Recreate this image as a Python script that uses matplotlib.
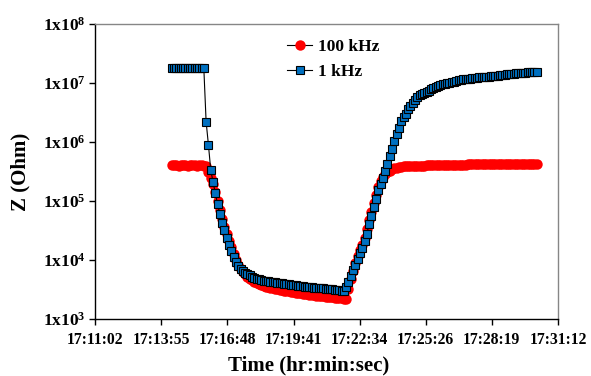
import numpy as np
import matplotlib
matplotlib.use("Agg")
import matplotlib.pyplot as plt
from matplotlib.ticker import FixedLocator, NullLocator, FixedFormatter

plt.rcParams['font.family'] = ['Liberation Serif', 'DejaVu Serif']
plt.rcParams['font.weight'] = 'bold'
plt.rcParams['mathtext.fontset'] = 'custom'
plt.rcParams['mathtext.rm'] = 'Liberation Serif:bold'
plt.rcParams['mathtext.bf'] = 'Liberation Serif:bold'
plt.rcParams['mathtext.it'] = 'Liberation Serif:bold'

# ---------------- data ----------------
x_tick_labels = ["17:11:02", "17:13:55", "17:16:48", "17:19:41",
                 "17:22:34", "17:25:26", "17:28:19", "17:31:12"]
y_exponents = [3, 4, 5, 6, 7, 8]

first_sample_time = "17:14:22.4"   # clock time of first measurement
sample_interval_s = 6.0            # seconds between measurements

z_100kHz = [
    4.02e5, 4.00e5, 4.01e5, 3.99e5, 4.00e5, 4.02e5, 4.00e5, 3.99e5, 4.01e5, 4.00e5,
    4.00e5, 3.99e5, 4.01e5, 4.00e5, 3.98e5,
    3.94e5,
    3.12e5, 2.47e5, 1.95e5, 1.43e5, 1.01e5, 6.96e4, 4.90e4, 3.66e4, 2.73e4, 2.12e4,
    1.64e4, 1.28e4, 1.01e4, 8.32e3, 7.11e3, 6.34e3, 5.74e3, 5.21e3, 4.82e3, 4.53e3,
    4.26e3, 4.03e3,
    3.85e3, 3.73e3, 3.62e3, 3.53e3, 3.45e3, 3.37e3, 3.30e3, 3.24e3, 3.18e3, 3.11e3,
    3.07e3, 3.02e3, 2.97e3, 2.93e3, 2.88e3, 2.84e3, 2.79e3, 2.75e3, 2.71e3, 2.67e3,
    2.64e3, 2.61e3, 2.58e3, 2.55e3, 2.52e3, 2.49e3, 2.47e3, 2.44e3, 2.42e3, 2.39e3,
    2.37e3, 2.34e3, 2.32e3, 2.30e3, 2.28e3, 2.25e3, 2.23e3, 2.21e3,
    2.21e3,
    3.2e3, 4.8e3, 6.6e3, 8.9e3, 1.15e4, 1.45e4, 1.80e4, 2.40e4, 3.40e4, 4.80e4,
    6.6e4, 9.2e4, 1.28e5, 1.72e5, 2.15e5, 2.55e5, 2.85e5, 3.08e5, 3.28e5, 3.44e5,
    3.58e5, 3.68e5, 3.76e5, 3.82e5,
    3.86e5, 3.88e5, 3.90e5, 3.92e5, 3.93e5, 3.95e5, 3.96e5, 3.97e5, 3.98e5, 3.99e5,
    4.00e5, 4.01e5, 4.02e5, 4.03e5, 4.04e5, 4.05e5, 4.06e5, 4.07e5, 4.08e5, 4.09e5,
    4.10e5, 4.11e5, 4.12e5, 4.13e5, 4.14e5, 4.15e5, 4.15e5, 4.15e5, 4.16e5, 4.16e5,
    4.16e5, 4.17e5, 4.17e5, 4.17e5, 4.18e5, 4.18e5, 4.18e5, 4.18e5, 4.19e5, 4.19e5,
    4.19e5, 4.19e5, 4.20e5, 4.20e5, 4.20e5, 4.20e5, 4.20e5, 4.21e5, 4.21e5, 4.21e5,
    4.21e5, 4.21e5, 4.22e5, 4.22e5, 4.22e5, 4.22e5, 4.22e5, 4.22e5, 4.22e5,
]

z_1kHz = [
    1.79e7, 1.78e7, 1.78e7, 1.77e7, 1.78e7, 1.79e7, 1.78e7, 1.78e7, 1.77e7, 1.78e7,
    1.78e7, 1.79e7, 1.78e7, 1.78e7, 1.77e7,
    2.2e6, 9.0e5,
    3.4e5, 2.1e5, 1.35e5, 8.8e4, 6.0e4, 4.3e4, 3.2e4, 2.4e4, 1.8e4, 1.4e4,
    1.12e4, 9.2e3, 7.9e3, 7.05e3, 6.5e3, 6.06e3, 5.79e3, 5.50e3, 5.25e3, 4.99e3,
    4.80e3,
    4.69e3, 4.58e3, 4.49e3, 4.41e3, 4.34e3, 4.27e3, 4.21e3, 4.16e3, 4.10e3, 4.05e3,
    4.00e3, 3.94e3, 3.89e3, 3.85e3, 3.80e3, 3.76e3, 3.72e3, 3.67e3, 3.63e3, 3.57e3,
    3.54e3, 3.50e3, 3.47e3, 3.44e3, 3.40e3, 3.38e3, 3.34e3, 3.32e3, 3.29e3, 3.27e3,
    3.24e3, 3.21e3, 3.19e3, 3.16e3, 3.13e3, 3.09e3, 3.04e3, 2.94e3,
    3.44e3, 4.16e3, 5.27e3, 6.69e3, 8.38e3, 1.04e4, 1.31e4, 1.60e4, 2.06e4, 2.79e4,
    4.05e4, 5.57e4, 7.80e4, 1.09e5, 1.51e5, 1.93e5, 2.47e5, 3.27e5, 4.25e5, 5.81e5,
    7.50e5, 1.03e6, 1.37e6, 1.74e6, 2.28e6, 2.62e6, 3.04e6, 3.57e6, 4.04e6, 4.62e6,
    5.19e6, 5.74e6, 6.14e6, 6.48e6, 6.84e6, 7.09e6, 7.40e6, 7.85e6, 8.15e6, 8.51e6,
    8.85e6, 9.24e6, 9.46e6, 9.68e6, 9.87e6, 1.01e7, 1.035e7, 1.06e7, 1.08e7, 1.11e7,
    1.13e7, 1.15e7, 1.16e7, 1.18e7, 1.19e7, 1.21e7, 1.21e7, 1.23e7, 1.24e7, 1.25e7,
    1.26e7, 1.27e7, 1.28e7, 1.29e7, 1.30e7, 1.32e7, 1.33e7, 1.35e7, 1.36e7, 1.38e7,
    1.40e7, 1.41e7, 1.42e7, 1.44e7, 1.45e7, 1.47e7, 1.48e7, 1.49e7, 1.50e7, 1.52e7,
    1.53e7, 1.54e7, 1.55e7, 1.56e7,
]


def clock_to_s(s):
    h, m, sec = s.split(":")
    return int(h) * 3600 + int(m) * 60 + float(sec)


t0 = clock_to_s(first_sample_time)
t_100k = t0 + sample_interval_s * np.arange(len(z_100kHz))
t_1k = t0 + sample_interval_s * np.arange(len(z_1kHz))
x_ticks = [clock_to_s(s) for s in x_tick_labels]

# ---------------- figure ----------------
W, H = 591, 376
fig = plt.figure(figsize=(W / 100, H / 100), dpi=100)
ax = fig.add_axes([95 / W, 1 - 319 / H, 463 / W, 295 / H])

ax.plot(t_100k, z_100kHz, color='black', lw=0.8, marker='o', markersize=7.5,
        markerfacecolor='#FF0000', markeredgecolor='#FF0000', markeredgewidth=0,
        label='100 kHz', zorder=2)
ax.plot(t_1k, z_1kHz, color='black', lw=0.8, marker='s', markersize=6.4,
        markerfacecolor='#0070C0', markeredgecolor='black', markeredgewidth=0.8,
        label='1 kHz', zorder=3)

ax.set_yscale('log')
ax.set_ylim(10.0 ** y_exponents[0], 10.0 ** y_exponents[-1])
ax.set_xlim(x_ticks[0], x_ticks[-1])

ax.yaxis.set_major_locator(FixedLocator([10.0 ** e for e in y_exponents]))
ax.yaxis.set_major_formatter(FixedFormatter(
    [r'$\mathbf{1x10^{%d}}$' % e for e in y_exponents]))
ax.yaxis.set_minor_locator(NullLocator())
ax.xaxis.set_major_locator(FixedLocator(x_ticks))
ax.xaxis.set_major_formatter(FixedFormatter(x_tick_labels))
ax.xaxis.set_minor_locator(NullLocator())

ax.tick_params(axis='y', which='major', direction='out', length=4, width=1,
               labelsize=12.5, pad=3, right=False)
ax.tick_params(axis='x', which='major', direction='out', length=4, width=1,
               labelsize=11.3, pad=5, top=False)
for lab in ax.get_xticklabels():
    lab.set_fontweight('bold')

for side in ('left', 'bottom'):
    ax.spines[side].set_color('black')
    ax.spines[side].set_linewidth(1.0)
for side in ('top', 'right'):
    ax.spines[side].set_color('#868686')
    ax.spines[side].set_linewidth(1.0)

ax.set_xlabel('Time (hr:min:sec)', fontsize=15, fontweight='bold')
ax.xaxis.set_label_coords((308.5 - 95) / 463, -0.125)
ax.set_ylabel('Z (Ohm)', fontsize=15, fontweight='bold')
ax.yaxis.set_label_coords(-0.14, 0.5)

leg = ax.legend(loc='upper left', bbox_to_anchor=((287 - 95) / 463, 0.951),
                frameon=False, fontsize=12.5, handlelength=1.45,
                handletextpad=0.35, labelspacing=0.53, borderpad=0,
                borderaxespad=0, numpoints=1)
for txt in leg.get_texts():
    txt.set_fontweight('bold')

fig.savefig('out.png', dpi=100)
